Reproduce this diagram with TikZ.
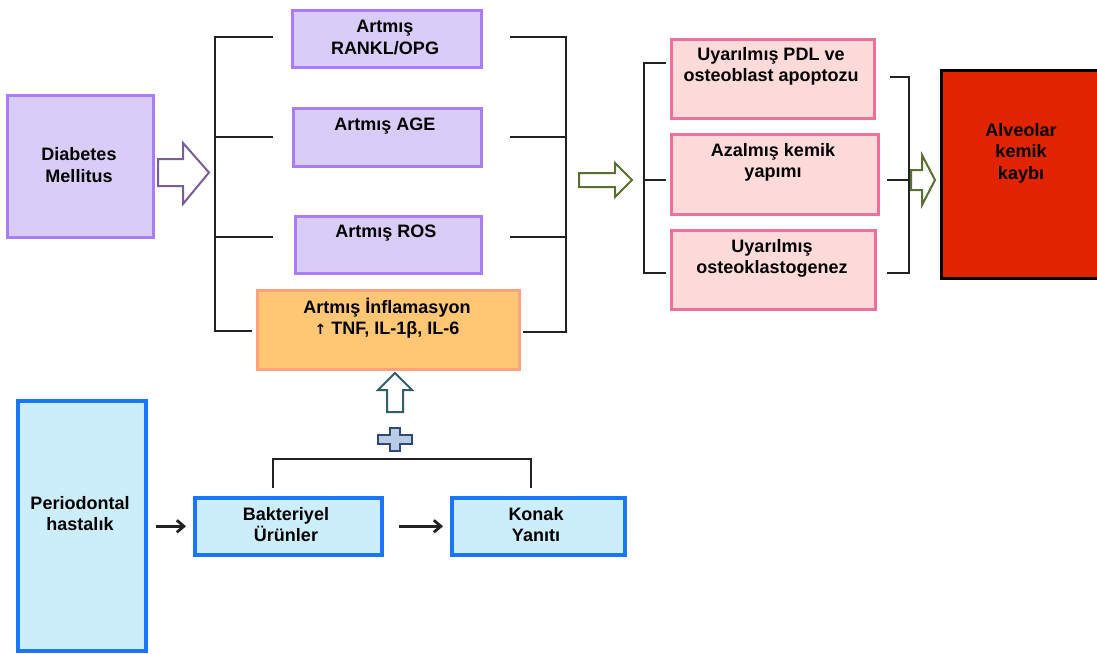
\documentclass[tikz,border=0pt]{standalone}
\usepackage{fontspec}
\setmainfont{Liberation Sans}
\usetikzlibrary{arrows.meta}
\definecolor{purpB}{HTML}{A97CF8}
\definecolor{purpF}{HTML}{D9CDF8}
\definecolor{oranB}{HTML}{FFA27E}
\definecolor{oranF}{HTML}{FFC674}
\definecolor{pinkB}{HTML}{EE7099}
\definecolor{pinkF}{HTML}{FFDADA}
\definecolor{bluB}{HTML}{1A75FF}
\definecolor{bluF}{HTML}{CCEEFB}
\definecolor{redF}{HTML}{E02400}
\definecolor{dmArrow}{HTML}{7A5C9A}
\definecolor{grArrow}{HTML}{5A7030}
\definecolor{upArrow}{HTML}{2F5F6A}
\definecolor{plusF}{HTML}{B8CCE4}
\definecolor{plusB}{HTML}{2F4A78}
\definecolor{lineC}{HTML}{222222}
\tikzset{
  box/.style={draw, line width=3pt, inner sep=0pt, anchor=north west},
  pbox/.style={box, draw=purpB, fill=purpF},
  obox/.style={box, draw=oranB, fill=oranF},
  kbox/.style={box, draw=pinkB, fill=pinkF},
  bbox/.style={box, draw=bluB, fill=bluF, line width=3.5pt},
  rbox/.style={box, draw=black, fill=redF},
  txt/.style={font=\bfseries\fontsize{18}{21.5}\selectfont, align=center, inner sep=0pt, text=black},
  brk/.style={draw=lineC, line width=2.8pt, line cap=butt},
  arr/.style={draw=lineC, line width=2.8pt, -{Straight Barb[length=7pt,width=12pt,line width=2.8pt]}},
  hollow/.style={line width=2pt, fill=white, line join=miter},
}
\begin{document}
\begin{tikzpicture}[x=1pt,y=-1pt]
\useasboundingbox (0,0) rectangle (1097,653);
\fill[white] (0,0) rectangle (1097,653);

% ---- Diabetes Mellitus
\node[pbox, minimum width=146pt, minimum height=142pt] (dm) at (6,94) {};
\node[txt] (dmT) at (79,165) {Diabetes\\Mellitus};

% ---- purple boxes
\node[pbox, minimum width=189pt, minimum height=57pt] (rankl) at (291,9) {};
\node[txt] (ranklT) at (385,37.5) {Artmış\\RANKL/OPG};
\node[pbox, minimum width=188pt, minimum height=58pt] (age) at (292,107) {};
\node[txt] (ageT) at (385,126) {Artmış AGE};
\node[pbox, minimum width=186pt, minimum height=57pt] (ros) at (294,215) {};
\node[txt] (rosT) at (386,233) {Artmış ROS};
\node[obox, minimum width=262pt, minimum height=79pt] (infl) at (256,289) {};
\node[txt] (inflT) at (387,318) {Artmış İnflamasyon\\{\fontspec{DejaVu Sans}\bfseries\fontsize{14}{21}\selectfont ↑} TNF, IL-1β, IL-6};

% ---- pink boxes
\node[kbox, minimum width=203pt, minimum height=79pt] (pdl) at (670,38) {};
\node[txt] (pdlT) at (771,66.5) {Uyarılmış PDL ve\\osteoblast apoptozu};
\node[kbox, minimum width=207pt, minimum height=80pt] (yap) at (670,133) {};
\node[txt] (yapT) at (773,162.5) {Azalmış kemik\\yapımı};
\node[kbox, minimum width=204pt, minimum height=79pt] (ost) at (670,229) {};
\node[txt] (ostT) at (772,258.5) {Uyarılmış\\osteoklastogenez};

% ---- red box (runs past the right edge)
\node[rbox, minimum width=170pt, minimum height=208pt] (alv) at (940,69) {};
\node[txt] (alvT) at (1021,153) {Alveolar\\kemik\\kaybı};

% ---- blue boxes
\node[bbox, minimum width=128pt, minimum height=250pt] (per) at (16,399) {};
\node[txt] (perT) at (80,513.5) {Periodontal\\hastalık};
\node[bbox, minimum width=187pt, minimum height=57pt] (bak) at (193,496) {};
\node[txt] (bakT) at (286,524.5) {Bakteriyel\\Ürünler};
\node[bbox, minimum width=173pt, minimum height=57pt] (kon) at (450,496) {};
\node[txt] (konT) at (536,524.5) {Konak\\Yanıtı};

% ---- bracket 1 (left)
\coordinate (b1t) at (215,37);
\coordinate (b1b) at (215,331);
\draw[brk] (273,37) -- (b1t) -- (b1b) -- (252,331);
\draw[brk] (215,137) -- (273,137);
\draw[brk] (215,237) -- (273,237);
% ---- bracket 1 (right)
\coordinate (b2t) at (566,37);
\coordinate (b2b) at (566,332);
\draw[brk] (510,37) -- (b2t) -- (b2b) -- (523,332);
\draw[brk] (510,137) -- (566,137);
\draw[brk] (510,237) -- (566,237);
% ---- bracket 2 (left)
\coordinate (b3t) at (644,63);
\coordinate (b3b) at (644,273);
\draw[brk] (666,63) -- (b3t) -- (b3b) -- (666,273);
\draw[brk] (644,180) -- (666,180);
% ---- bracket 2 (right)
\coordinate (b4t) at (909,77);
\coordinate (b4b) at (909,273);
\draw[brk] (890,77) -- (b4t) -- (b4b) -- (887,273);
\draw[brk] (887,180) -- (909,180);
% ---- bottom bracket
\coordinate (c1) at (273,488);
\coordinate (c2) at (531,488);
\draw[brk] (c1) -- (273,459) -- (531,459) -- (c2);

% ---- hollow block arrows
\draw[hollow, draw=dmArrow] (158,159) -- (183,159) -- (183,143) -- (209,172.5) -- (183,204) -- (183,186) -- (158,186) -- cycle;
\draw[hollow, draw=grArrow] (579,173) -- (615,173) -- (615,163) -- (632,180) -- (615,197) -- (615,187) -- (579,187) -- cycle;
\draw[hollow, draw=grArrow] (911,170) -- (922,170) -- (922,155) -- (935,180) -- (922,205) -- (922,190) -- (911,190) -- cycle;
\draw[hollow, draw=upArrow] (387,412) -- (387,390) -- (378,390) -- (395,373) -- (412,390) -- (403,390) -- (403,412) -- cycle;

% ---- plus sign
\draw[line width=1.6pt, draw=plusB, fill=plusF, line join=miter]
  (390,428) -- (400,428) -- (400,435) -- (412,435) -- (412,444) -- (400,444) -- (400,451)
  -- (390,451) -- (390,444) -- (378,444) -- (378,435) -- (390,435) -- cycle;

% ---- connectors
\draw[arr, shorten <=8pt, shorten >=7pt] (per.east |- bak.west) -- (bak.west);
\draw[arr, shorten <=15pt, shorten >=7pt] (bak.east) -- (kon.west);
\end{tikzpicture}
\end{document}
